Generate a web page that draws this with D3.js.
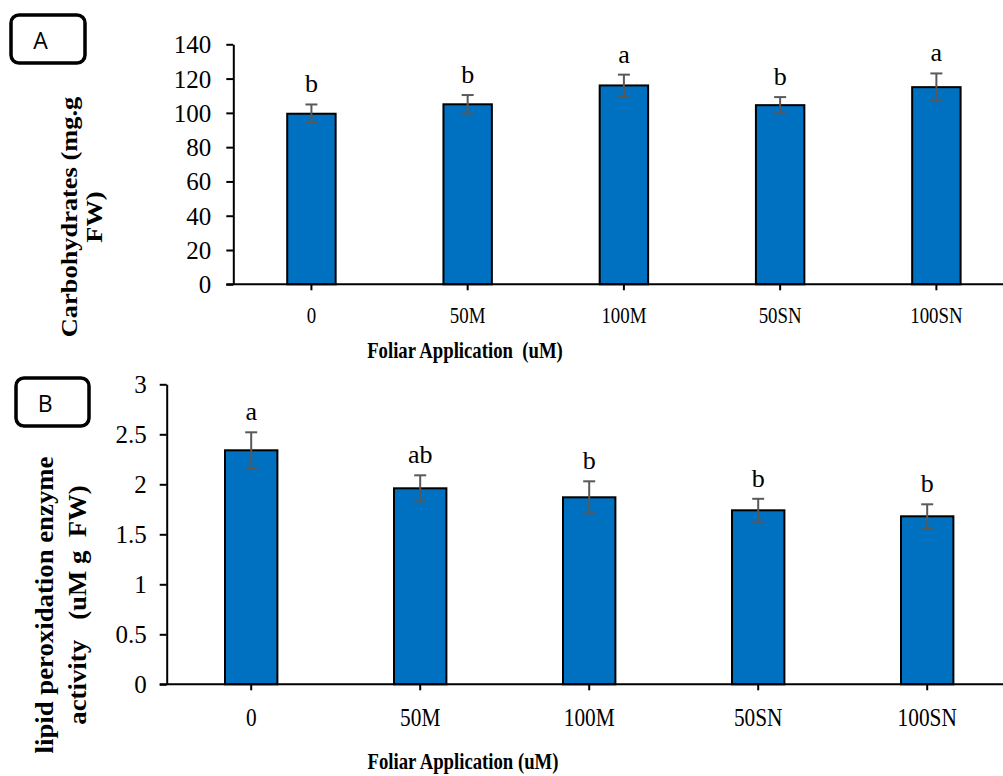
<!DOCTYPE html>
<html>
<head>
<meta charset="utf-8">
<script src="https://cdn.jsdelivr.net/npm/d3@7"></script>
<style>
  html, body { margin: 0; padding: 0; background: #fff; }
  svg { display: block; }
  text { font-family: "Liberation Serif", "Times New Roman", serif; fill: #000; }
</style>
</head>
<body>
<svg id="chart" width="1003" height="776"></svg>
<script>
// Treatments (foliar application, uM)
const categories = ["0", "50M", "100M", "50SN", "100SN"];

// Panel A: carbohydrates (mg.g FW)
const carbValues = [99.5, 105, 116, 104.5, 115];
const carbErrors = [5.4, 5.4, 6.3, 4.7, 8];
const carbLetters = ["b", "b", "a", "b", "a"];
const carbTicks = [0, 20, 40, 60, 80, 100, 120, 140];

// Panel B: lipid peroxidation enzyme activity (uM g FW)
const lipidValues = [2.34, 1.96, 1.87, 1.74, 1.68];
const lipidErrors = [0.18, 0.13, 0.16, 0.115, 0.12];
const lipidLetters = ["a", "ab", "b", "b", "b"];
const lipidTicks = [0, 0.5, 1, 1.5, 2, 2.5, 3];

const svg = d3.select("#chart");

const SERIF = "'Liberation Serif', 'Times New Roman', serif";
const BAR_FILL = "#0070C0";
const ERR_COLOR = "#595959";

function drawPanel(cfg) {
  const g = svg.append("g");

  const x = d3.scaleBand()
    .domain(categories)
    .range([cfg.left, cfg.right])
    .padding(0);

  const y = d3.scaleLinear()
    .domain(cfg.domain)
    .range([cfg.bottom, cfg.top]);

  const barW = x.bandwidth() * 0.31;
  const cx = d => x(d.cat) + x.bandwidth() / 2;

  const rows = categories.map((c, i) => ({
    cat: c, v: cfg.values[i], e: cfg.errors[i], lab: cfg.letters[i]
  }));

  // bars
  g.selectAll("rect.bar").data(rows).join("rect")
    .attr("class", "bar")
    .attr("x", d => cx(d) - barW / 2)
    .attr("y", d => y(d.v))
    .attr("width", barW)
    .attr("height", d => y(0) - y(d.v))
    .attr("fill", BAR_FILL)
    .attr("stroke", "#000")
    .attr("stroke-width", 2);

  // error bars
  const eb = g.selectAll("g.err").data(rows).join("g").attr("class", "err")
    .attr("stroke", ERR_COLOR).attr("stroke-width", 2);
  eb.append("line")
    .attr("x1", cx).attr("x2", cx)
    .attr("y1", d => y(d.v - d.e)).attr("y2", d => y(d.v + d.e));
  eb.append("line")
    .attr("x1", d => cx(d) - 6).attr("x2", d => cx(d) + 6)
    .attr("y1", d => y(d.v + d.e)).attr("y2", d => y(d.v + d.e));
  eb.append("line")
    .attr("x1", d => cx(d) - 6).attr("x2", d => cx(d) + 6)
    .attr("y1", d => y(d.v - d.e)).attr("y2", d => y(d.v - d.e));

  // significance letters
  g.selectAll("text.sig").data(rows).join("text")
    .attr("class", "sig")
    .attr("x", cx)
    .attr("y", d => y(d.v + d.e) - 12)
    .attr("text-anchor", "middle")
    .style("font-family", SERIF)
    .style("font-size", "26px")
    .text(d => d.lab);

  // y axis
  const yAxis = g.append("g")
    .attr("transform", `translate(${cfg.left},0)`)
    .call(d3.axisLeft(y).tickValues(cfg.ticks).tickSize(7).tickSizeOuter(0)
      .tickFormat(d3.format("")));
  yAxis.select(".domain").attr("stroke", "#000").attr("stroke-width", 2);
  yAxis.selectAll(".tick line").attr("stroke", "#000").attr("stroke-width", 2);
  yAxis.selectAll(".tick text")
    .attr("x", -cfg.yLabelGap)
    .attr("dy", "0.34em")
    .style("font-family", SERIF)
    .style("font-size", "25px");

  // x axis
  const xAxis = g.append("g")
    .attr("transform", `translate(0,${cfg.bottom})`)
    .call(d3.axisBottom(x).tickSize(6).tickSizeOuter(0));
  xAxis.select(".domain").attr("stroke", "#000").attr("stroke-width", 2)
    .attr("d", `M${cfg.left - 7},0H${cfg.right}`);
  xAxis.selectAll(".tick line").attr("stroke", "#000").attr("stroke-width", 2);
  xAxis.selectAll(".tick text")
    .attr("y", cfg.xLabelDrop)
    .attr("dy", null)
    .attr("transform", "scale(0.82,1)")
    .style("font-family", SERIF)
    .style("font-size", cfg.xTickSize + "px");

  // x axis title
  g.append("text")
    .attr("transform", `translate(${cfg.xTitleX},${cfg.xTitleY}) scale(0.78,1)`)
    .attr("text-anchor", "middle")
    .style("font-family", SERIF)
    .style("font-size", "24px")
    .style("font-weight", "bold")
    .style("white-space", "pre")
    .text(cfg.xTitle);

  // y axis title (two lines, rotated)
  const yt = g.append("text")
    .attr("transform", `translate(0,${cfg.yTitleY}) rotate(-90) scale(${cfg.yTitleStretch},1)`)
    .attr("text-anchor", "middle")
    .style("font-family", SERIF)
    .style("font-size", cfg.yTitleSize + "px")
    .style("font-weight", "bold")
    .style("white-space", "pre");
  cfg.yTitle.forEach((line, i) => {
    yt.append("tspan").attr("x", 0).attr("y", cfg.yTitleBase[i]).text(line);
  });

  // panel tag box
  g.append("rect")
    .attr("x", cfg.tag.x).attr("y", cfg.tag.y)
    .attr("width", cfg.tag.w).attr("height", cfg.tag.h)
    .attr("rx", 8).attr("ry", 8)
    .attr("fill", "#fff").attr("stroke", "#000").attr("stroke-width", 3.5);
  g.append("text")
    .attr("x", cfg.tag.x + cfg.tag.w * 0.4)
    .attr("y", cfg.tag.y + cfg.tag.h * 0.7)
    .attr("text-anchor", "middle")
    .style("font-family", "'Open Sans', 'Liberation Sans', sans-serif")
    .style("font-size", "23px")
    .text(cfg.tag.label);
}

drawPanel({
  left: 233.3, right: 1014.5, top: 44.3, bottom: 284.3,
  domain: [0, 140], ticks: carbTicks,
  values: carbValues, errors: carbErrors, letters: carbLetters,
  yLabelGap: 22, xLabelDrop: 39, xTickSize: 23,
  xTitle: "Foliar Application  (uM)", xTitleX: 465, xTitleY: 358,
  yTitle: ["Carbohydrates (mg.g", "FW)"], yTitleY: 217, yTitleBase: [77, 102],
  yTitleSize: 24, yTitleStretch: 1.1,
  tag: { x: 11, y: 15, w: 74, h: 48, label: "A" }
});

drawPanel({
  left: 166.7, right: 1011.7, top: 384.3, bottom: 684.3,
  domain: [0, 3], ticks: lipidTicks,
  values: lipidValues, errors: lipidErrors, letters: lipidLetters,
  yLabelGap: 20, xLabelDrop: 42, xTickSize: 26,
  xTitle: "Foliar Application (uM)", xTitleX: 463, xTitleY: 769,
  yTitle: ["lipid peroxidation enzyme", "activity   (uM g  FW)"], yTitleY: 605, yTitleBase: [53, 86],
  yTitleSize: 26, yTitleStretch: 1.03,
  tag: { x: 16, y: 378, w: 73, h: 48, label: "B" }
});
</script>
</body>
</html>
